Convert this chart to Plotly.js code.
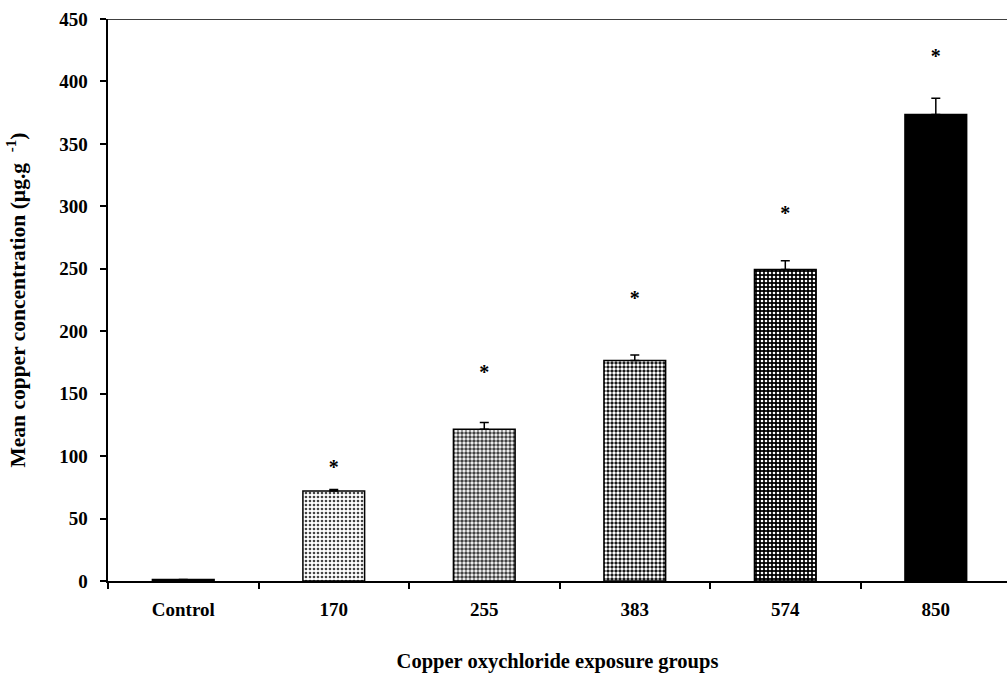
<!DOCTYPE html>
<html>
<head>
<meta charset="utf-8">
<script src="https://cdn.plot.ly/plotly-3.0.1.min.js"></script>
<style>html,body{margin:0;padding:0;background:#fff;}#chart{width:1007px;height:675px;}</style>
</head>
<body>
<div id="chart"></div>
<script>
var categories = ["Control", "170", "255", "383", "574", "850"];
var meanCopper = [1.2, 72, 121.5, 176.5, 249.5, 373.5];
var errUpper = [0, 1.2, 5.5, 4.5, 7, 13];
var starY = [null, 90, 166, 225, 293, 419];
var starText = ["", "*", "*", "*", "*", "*"];
var yTicks = [0, 50, 100, 150, 200, 250, 300, 350, 400, 450];

var barFill = ["#000000", "#ffffff", "#ffffff", "#000000", "#000000", "#000000"];
var patShape = ["", ".", ".", ".", ".", ""];
var patFg = ["#000000", "#000000", "#000000", "#ffffff", "#ffffff", "#000000"];
var patSolid = [0.3, 0.35, 0.6, 0.6, 0.35, 0.3];

var font = "'Liberation Serif', 'Times New Roman', serif";

var bars = {
  type: "bar",
  x: categories,
  y: meanCopper,
  width: 0.41,
  marker: {
    color: barFill,
    line: {color: "#000000", width: 1.5},
    pattern: {shape: patShape, fgcolor: patFg, fgopacity: 1, size: 4, solidity: patSolid, fillmode: "overlay"}
  },
  error_y: {type: "data", symmetric: false, array: errUpper, arrayminus: [0,0,0,0,0,0], color: "#000000", thickness: 1.5, width: 4.5},
  hoverinfo: "x+y",
  showlegend: false
};

var stars = {
  type: "scatter",
  mode: "text",
  x: categories,
  y: starY,
  text: starText,
  textfont: {family: font, size: 20, color: "#000000", weight: "bold"},
  textposition: "middle center",
  showlegend: false,
  hoverinfo: "skip"
};

var layout = {
  width: 1007,
  height: 675,
  margin: {l: 108, r: 0, t: 19, b: 94},
  paper_bgcolor: "#ffffff",
  plot_bgcolor: "#ffffff",
  font: {family: font, color: "#000000"},
  xaxis: {
    type: "category",
    range: [-0.5, 5.473],
    showline: true, linecolor: "#000000", linewidth: 2,
    ticks: "outside", tickson: "boundaries", ticklen: 6, tickwidth: 2, tickcolor: "#000000",
    ticklabelstandoff: 10,
    tickfont: {family: font, size: 19, color: "#000000", weight: "bold"},
    showgrid: false, zeroline: false,
    title: {text: "<b>Copper oxychloride exposure groups</b>", font: {family: font, size: 20.5, color: "#000000"}, standoff: 35}
  },
  yaxis: {
    range: [0, 450],
    tickvals: yTicks,
    ticktext: yTicks.map(String),
    showline: true, linecolor: "#000000", linewidth: 2.5,
    ticks: "outside", ticklen: 6, tickwidth: 2, tickcolor: "#000000",
    ticklabelstandoff: 8,
    tickfont: {family: font, size: 19, color: "#000000", weight: "bold"},
    showgrid: false, zeroline: false,
    title: {text: "<b>Mean copper concentration (µg.g  <sup>-1</sup>)</b>", font: {family: font, size: 21.5, color: "#000000"}, standoff: 28}
  },
  shapes: [
    {type: "line", xref: "paper", yref: "y", x0: 0, x1: 1, y0: 450, y1: 450, line: {color: "#000000", width: 1.5}}
  ]
};

Plotly.newPlot("chart", [bars, stars], layout, {displayModeBar: false, staticPlot: true});
</script>
</body>
</html>
